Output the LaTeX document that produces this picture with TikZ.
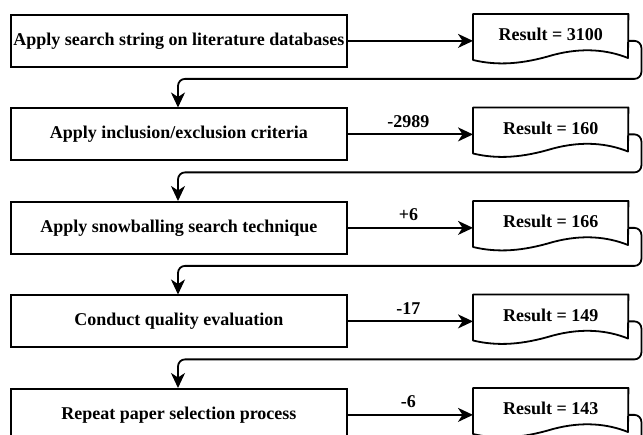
\documentclass[tikz,border=0pt]{standalone}
\usepackage{fontspec}
\setmainfont{Liberation Serif}
\usetikzlibrary{arrows.meta,calc}
\newcommand\mydocshape[1]{%
  \draw[docline] (#1.north west) -- (#1.north east)
    -- ($(#1.north west)+(155,44)$)
    .. controls ($(#1.north west)+(135,36)$) and ($(#1.north west)+(110,33)$) .. ($(#1.north west)+(80,41)$)
    .. controls ($(#1.north west)+(50,50)$) and ($(#1.north west)+(25,52)$) .. ($(#1.north west)+(0,46)$)
    -- cycle;}
\tikzset{
  txt/.style={font=\fontsize{18}{20}\selectfont\bfseries},
  procbox/.style={txt, draw, line width=1.8pt, minimum width=336pt, minimum height=52pt, inner sep=0pt, anchor=north west},
  resnode/.style={txt, minimum width=155pt, minimum height=41pt, inner sep=0pt, anchor=north west},
  docline/.style={line width=1.8pt, line join=round},
  conn/.style={line width=1.8pt, -{Stealth[length=15pt,width=14pt,inset=4.5pt]}},
  loopconn/.style={conn, rounded corners=7pt},
  lbl/.style={txt, inner sep=1pt}
}
\begin{document}
\begin{tikzpicture}[x=1pt,y=-1pt]
\clip (0,0) rectangle (643,435);
\fill[white] (0,0) rectangle (643,435);
% row 1
\node[procbox] (b1) at (10,14) {Apply search string on literature databases};
\node[resnode] (r1) at (473,14) {Result = 3100};
% row 2
\node[procbox] (b2) at (10,107.5) {Apply inclusion/exclusion criteria};
\node[resnode] (r2) at (473,107.5) {Result = 160};
% row 3
\node[procbox] (b3) at (10,201) {Apply snowballing search technique};
\node[resnode] (r3) at (473,201) {Result = 166};
% row 4
\node[procbox] (b4) at (10,294.5) {Conduct quality evaluation};
\node[resnode] (r4) at (473,294.5) {Result = 149};
% row 5
\node[procbox] (b5) at (10,388) {Repeat paper selection process};
\node[resnode] (r5) at (473,388) {Result = 143};
% document shapes
\mydocshape{r1}
\mydocshape{r2}
\mydocshape{r3}
\mydocshape{r4}
\mydocshape{r5}
% horizontal arrows
\draw[conn] (b1.east) -- (r1.west |- b1.east);
\draw[conn] (b2.east) -- (r2.west |- b2.east);
\draw[conn] (b3.east) -- (r3.west |- b3.east);
\draw[conn] (b4.east) -- (r4.west |- b4.east);
\draw[conn] (b5.east) -- (r5.west |- b5.east);
% labels
\node[lbl] (l2) at ($(b2.east)!0.5!(r2.west |- b2.east)+(-2,-13)$) {-2989};
\node[lbl] (l3) at ($(b3.east)!0.5!(r3.west |- b3.east)+(-2,-13)$) {+6};
\node[lbl] (l4) at ($(b4.east)!0.5!(r4.west |- b4.east)+(-2,-13)$) {-17};
\node[lbl] (l5) at ($(b5.east)!0.5!(r5.west |- b5.east)+(-2,-13)$) {-6};
% loop connectors
\draw[loopconn] (r1.east |- b1.east) -- ++(13,0) -- ++(0,38) -| ($(b2.north west)+(168,0)$);
\draw[loopconn] (r2.east |- b2.east) -- ++(13,0) -- ++(0,38) -| ($(b3.north west)+(168,0)$);
\draw[loopconn] (r3.east |- b3.east) -- ++(13,0) -- ++(0,38) -| ($(b4.north west)+(168,0)$);
\draw[loopconn] (r4.east |- b4.east) -- ++(13,0) -- ++(0,38) -| ($(b5.north west)+(168,0)$);
\draw[line width=1.8pt, rounded corners=7pt] (r5.east |- b5.east) -- ++(13,0) -- ++(0,38);
\end{tikzpicture}
\end{document}
